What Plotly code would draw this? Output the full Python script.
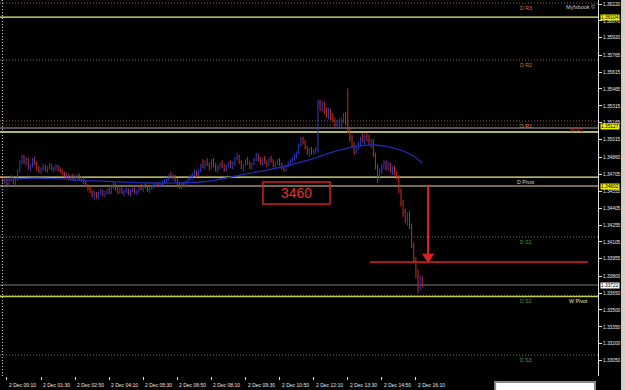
import plotly.graph_objects as go

# ---------------- data (EURUSD M5, 2 Dec) ----------------
open_ = [
 1.3466,1.3464,1.3466,1.3462,1.3465,1.3468,1.3463,1.3466,1.3474,1.3482,
 1.3486,1.3481,1.3484,1.3477,1.3479,1.3484,1.3480,1.3475,1.3473,1.3476,
 1.3478,1.3474,1.3477,1.3479,1.3475,1.3476,1.3478,1.3474,1.3473,1.3471,
 1.3469,1.3470,1.3467,1.3469,1.3467,1.3468,1.3470,1.3466,1.3467,1.3463,
 1.3460,1.3458,1.3455,1.3452,1.3454,1.3450,1.3454,1.3456,1.3452,1.3455,
 1.3457,1.3454,1.3459,1.3462,1.3457,1.3455,1.3458,1.3454,1.3456,1.3457,
 1.3453,1.3456,1.3458,1.3454,1.3455,1.3459,1.3457,1.3460,1.3459,1.3456,
 1.3458,1.3460,1.3461,1.3462,1.3460,1.3462,1.3464,1.3465,1.3467,1.3470,
 1.3468,1.3469,1.3465,1.3462,1.3460,1.3462,1.3460,1.3464,1.3467,1.3469,
 1.3471,1.3473,1.3470,1.3474,1.3479,1.3477,1.3482,1.3479,1.3476,1.3483,
 1.3478,1.3475,1.3477,1.3480,1.3477,1.3474,1.3478,1.3481,1.3477,1.3480,
 1.3485,1.3487,1.3481,1.3476,1.3479,1.3483,1.3480,1.3477,1.3480,1.3484,
 1.3488,1.3483,1.3481,1.3484,1.3481,1.3479,1.3484,1.3482,1.3478,1.3480,
 1.3483,1.3479,1.3476,1.3474,1.3478,1.3481,1.3483,1.3485,1.3487,1.3490,
 1.3497,1.3502,1.3499,1.3494,1.3490,1.3492,1.3489,1.3492,1.3493,1.3534,
 1.3528,1.3533,1.3525,1.3523,1.3527,1.3520,1.3518,1.3515,1.3516,1.3517,
 1.3520,1.3523,1.3516,1.3510,1.3502,1.3496,1.3490,1.3495,1.3498,1.3502,
 1.3500,1.3504,1.3501,1.3497,1.3500,1.3488,1.3477,1.3469,1.3474,1.3478,
 1.3481,1.3476,1.3480,1.3474,1.3476,1.3472,1.3468,1.3456,1.3445,1.3437,
 1.3431,1.3435,1.3425,1.3408,1.3394,1.3380,1.3370,1.3378]
high = [
 1.3469,1.3467,1.3468,1.3466,1.3470,1.3469,1.3467,1.3475,1.3483,1.3488,
 1.3488,1.3486,1.3485,1.3480,1.3485,1.3486,1.3482,1.3478,1.3477,1.3480,
 1.3479,1.3478,1.3481,1.3480,1.3478,1.3480,1.3479,1.3477,1.3475,1.3473,
 1.3472,1.3471,1.3470,1.3471,1.3470,1.3471,1.3471,1.3469,1.3468,1.3465,
 1.3462,1.3460,1.3457,1.3456,1.3455,1.3455,1.3458,1.3457,1.3456,1.3458,
 1.3459,1.3460,1.3464,1.3463,1.3460,1.3459,1.3459,1.3457,1.3459,1.3458,
 1.3457,1.3459,1.3459,1.3457,1.3460,1.3462,1.3461,1.3463,1.3461,1.3459,
 1.3461,1.3462,1.3463,1.3464,1.3463,1.3465,1.3466,1.3468,1.3471,1.3473,
 1.3471,1.3470,1.3467,1.3464,1.3463,1.3464,1.3465,1.3468,1.3470,1.3472,
 1.3475,1.3474,1.3475,1.3480,1.3484,1.3483,1.3485,1.3481,1.3484,1.3485,
 1.3481,1.3479,1.3481,1.3483,1.3480,1.3479,1.3482,1.3483,1.3482,1.3486,
 1.3490,1.3488,1.3483,1.3480,1.3484,1.3486,1.3482,1.3481,1.3485,1.3490,
 1.3489,1.3486,1.3485,1.3487,1.3483,1.3485,1.3487,1.3484,1.3482,1.3484,
 1.3485,1.3481,1.3478,1.3479,1.3482,1.3484,1.3486,1.3489,1.3491,1.3498,
 1.3504,1.3504,1.3501,1.3496,1.3494,1.3495,1.3493,1.3495,1.3537,1.3537,
 1.3536,1.3535,1.3530,1.3530,1.3529,1.3525,1.3521,1.3519,1.3520,1.3521,
 1.3525,1.3526,1.3547,1.3513,1.3506,1.3499,1.3497,1.3500,1.3504,1.3507,
 1.3506,1.3507,1.3506,1.3502,1.3502,1.3490,1.3480,1.3476,1.3480,1.3483,
 1.3483,1.3482,1.3481,1.3478,1.3478,1.3474,1.3470,1.3458,1.3448,1.3440,
 1.3437,1.3438,1.3427,1.3410,1.3397,1.3386,1.3381,1.3380]
low = [
 1.3463,1.3462,1.3461,1.3460,1.3464,1.3462,1.3461,1.3465,1.3472,1.3479,
 1.3480,1.3478,1.3475,1.3473,1.3477,1.3479,1.3474,1.3472,1.3471,1.3474,
 1.3473,1.3472,1.3475,1.3474,1.3472,1.3474,1.3473,1.3472,1.3470,1.3468,
 1.3467,1.3466,1.3465,1.3466,1.3464,1.3466,1.3465,1.3464,1.3462,1.3459,
 1.3456,1.3454,1.3450,1.3448,1.3449,1.3449,1.3452,1.3451,1.3450,1.3453,
 1.3453,1.3453,1.3458,1.3456,1.3453,1.3453,1.3453,1.3451,1.3454,1.3452,
 1.3451,1.3455,1.3453,1.3452,1.3454,1.3456,1.3455,1.3458,1.3455,1.3454,
 1.3457,1.3458,1.3459,1.3459,1.3459,1.3461,1.3462,1.3463,1.3465,1.3467,
 1.3465,1.3464,1.3461,1.3458,1.3457,1.3459,1.3459,1.3463,1.3465,1.3466,
 1.3469,1.3468,1.3469,1.3472,1.3476,1.3475,1.3478,1.3474,1.3475,1.3477,
 1.3473,1.3472,1.3475,1.3476,1.3473,1.3473,1.3477,1.3476,1.3475,1.3478,
 1.3483,1.3480,1.3475,1.3473,1.3478,1.3479,1.3475,1.3475,1.3479,1.3482,
 1.3482,1.3479,1.3478,1.3480,1.3477,1.3478,1.3481,1.3477,1.3475,1.3479,
 1.3478,1.3475,1.3473,1.3473,1.3477,1.3479,1.3481,1.3483,1.3485,1.3488,
 1.3495,1.3497,1.3493,1.3488,1.3486,1.3488,1.3488,1.3489,1.3490,1.3527,
 1.3526,1.3524,1.3521,1.3520,1.3519,1.3517,1.3512,1.3513,1.3513,1.3512,
 1.3516,1.3514,1.3507,1.3500,1.3494,1.3488,1.3489,1.3492,1.3496,1.3499,
 1.3497,1.3500,1.3496,1.3494,1.3486,1.3475,1.3463,1.3466,1.3471,1.3475,
 1.3474,1.3474,1.3472,1.3470,1.3470,1.3466,1.3454,1.3442,1.3433,1.3427,
 1.3425,1.3422,1.3405,1.3392,1.3378,1.3365,1.3367,1.3370]
close = [
 1.3464,1.3466,1.3462,1.3465,1.3468,1.3463,1.3466,1.3474,1.3482,1.3486,
 1.3481,1.3484,1.3477,1.3479,1.3484,1.3480,1.3475,1.3473,1.3476,1.3478,
 1.3474,1.3477,1.3479,1.3475,1.3476,1.3478,1.3474,1.3473,1.3471,1.3469,
 1.3470,1.3467,1.3469,1.3467,1.3468,1.3470,1.3466,1.3467,1.3463,1.3460,
 1.3458,1.3455,1.3452,1.3454,1.3450,1.3454,1.3456,1.3452,1.3455,1.3457,
 1.3454,1.3459,1.3462,1.3457,1.3455,1.3458,1.3454,1.3456,1.3457,1.3453,
 1.3456,1.3458,1.3454,1.3455,1.3459,1.3457,1.3460,1.3459,1.3456,1.3458,
 1.3460,1.3461,1.3462,1.3460,1.3462,1.3464,1.3465,1.3467,1.3470,1.3468,
 1.3469,1.3465,1.3462,1.3460,1.3462,1.3460,1.3464,1.3467,1.3469,1.3471,
 1.3473,1.3470,1.3474,1.3479,1.3477,1.3482,1.3479,1.3476,1.3483,1.3478,
 1.3475,1.3477,1.3480,1.3477,1.3474,1.3478,1.3481,1.3477,1.3480,1.3485,
 1.3487,1.3481,1.3476,1.3479,1.3483,1.3480,1.3477,1.3480,1.3484,1.3488,
 1.3483,1.3481,1.3484,1.3481,1.3479,1.3484,1.3482,1.3478,1.3480,1.3483,
 1.3479,1.3476,1.3474,1.3478,1.3481,1.3483,1.3485,1.3487,1.3490,1.3497,
 1.3502,1.3499,1.3494,1.3490,1.3492,1.3489,1.3492,1.3494,1.3534,1.3528,
 1.3533,1.3525,1.3523,1.3527,1.3520,1.3518,1.3515,1.3516,1.3517,1.3520,
 1.3523,1.3516,1.3510,1.3502,1.3496,1.3490,1.3495,1.3498,1.3502,1.3500,
 1.3504,1.3501,1.3497,1.3500,1.3488,1.3477,1.3469,1.3474,1.3478,1.3481,
 1.3476,1.3480,1.3474,1.3476,1.3472,1.3468,1.3456,1.3445,1.3437,1.3431,
 1.3435,1.3425,1.3408,1.3394,1.3380,1.3370,1.3378,1.33725]

# moving average read at a few bars
ma_bars = [0, 12, 24, 32, 46, 58, 70, 82, 93, 100, 107, 116, 124, 135, 142,
           148, 155, 162, 168, 174, 180, 187, 192, 197]
ma_vals = [1.34655, 1.34670, 1.34668, 1.34658, 1.34646, 1.34636, 1.34629,
           1.34630, 1.34638, 1.34655, 1.34682, 1.34715, 1.34744, 1.34789,
           1.34825, 1.34860, 1.34905, 1.34940, 1.34960, 1.34967, 1.34955,
           1.34922, 1.34878, 1.34806]

# time axis labels (bar index of each label)
time_bars = [2, 18, 34, 50, 66, 82, 98, 114, 130, 146, 162, 178, 194]
time_labels = ["2 Dec 00:10", "2 Dec 01:30", "2 Dec 02:50", "2 Dec 04:10",
               "2 Dec 05:30", "2 Dec 06:50", "2 Dec 08:10", "2 Dec 09:30",
               "2 Dec 10:50", "2 Dec 12:10", "2 Dec 13:30", "2 Dec 14:50",
               "2 Dec 16:10"]

# price axis ticks
price_ticks = [1.36220, 1.36070, 1.35920, 1.35765, 1.35615, 1.35465, 1.35315,
               1.35165, 1.35015, 1.34860, 1.34705, 1.34555, 1.34405, 1.34255,
               1.34105, 1.33955, 1.33800, 1.33650, 1.33500, 1.33350, 1.33200,
               1.33050, 1.32895]
price_tick_text = ["1.36220", "1.36070", "1.35920", "1.35765", "1.35615",
                   "1.35465", "1.35315", "1.35165", "1.35015", "1.34860",
                   "1.34705", "1.34555", "1.34405", "1.34255", "1.34105",
                   "1.33955", "1.33800", "1.33650", "1.33500", "1.33350",
                   "1.33200", "1.33050", "1.32895"]

# pivot levels
pivot_names = ["D R3", "D R2", "D R1", "W R1", "D Pivot", "D S1", "D S2", "W Pivot", "D S3"]
pivot_prices = [1.36229, 1.35722, 1.35180, 1.35144, 1.34682, 1.34149, 1.33624, 1.33620, 1.33100]

# other horizontal lines
hline_prices = [1.36104, 1.35118, 1.35082, 1.34602, 1.33722]
marked_prices = [1.36104, 1.35127, 1.34602]   # yellow price tags
bid_price = 1.33722
target_price = 1.33926
box_text = "3460"
arrow_top = 1.34602

# ---------------- figure ----------------
BULL = "#2a3acb"
BEAR = "#c4301e"
YEL = "#eeee8a"
Y_RANGE = [1.32913, 1.36256]
X_RANGE = [-1.27, 279.5]
FONT = "Liberation Sans"

n = len(close)
bars = list(range(n))

fig = go.Figure()
fig.add_trace(go.Ohlc(
    x=bars, open=open_, high=high, low=low, close=close,
    increasing=dict(line=dict(color=BULL, width=1)),
    decreasing=dict(line=dict(color=BEAR, width=1)),
    tickwidth=0.2, showlegend=False, hoverinfo="skip"))
fig.add_trace(go.Scatter(
    x=ma_bars, y=ma_vals, mode="lines",
    line=dict(color="#1c2cb0", width=1.3, shape="spline"),
    showlegend=False, hoverinfo="skip"))

shapes = []
def hline(y, color, width=1, dash="solid", x0=0, x1=1, xref="paper"):
    shapes.append(dict(type="line", xref=xref, yref="y", x0=x0, x1=x1, y0=y, y1=y,
                       line=dict(color=color, width=width, dash=dash), layer="below"))

DOT = "1px,2px"
pivot_style = {
    "D R3": ("#9a6038", DOT), "D R2": ("#9a6038", DOT), "D R1": ("#9a6038", DOT),
    "W R1": ("#a82424", DOT), "D Pivot": (YEL, "solid"), "D S1": ("#5e7e5e", DOT),
    "D S2": ("#e8e860", DOT), "W Pivot": ("#c8c850", "solid"), "D S3": ("#5e7e5e", DOT),
}
for nm, p in zip(pivot_names, pivot_prices):
    c, d = pivot_style[nm]
    hline(p, c, 1.3 if d == "solid" else 1, d)

hline_styles = [(YEL, 1.4), ("#a8a8a0", 1.2), (YEL, 1.4), ("#9c8c6c", 1.6), ("#7c7c7c", 1)]
for p, (c, w) in zip(hline_prices, hline_styles):
    hline(p, c, w)

# red target line
hline(target_price, "#e02020", 1.5, "solid", x0=172.4, x1=274.8, xref="x")

# arrow
shapes.append(dict(type="line", xref="x", yref="y", x0=199.7, x1=199.7,
                   y0=arrow_top, y1=target_price + 0.0006,
                   line=dict(color="#e02020", width=2)))
shapes.append(dict(type="path", xref="x", yref="y",
                   path=f"M 197.2 {target_price + 0.0007} L 202.3 {target_price + 0.0007} L 199.75 {target_price} Z",
                   fillcolor="#e02020", line=dict(color="#e02020", width=1)))

# text box
shapes.append(dict(type="rect", xref="x", yref="y", x0=122.2, x1=153.7,
                   y0=1.34442, y1=1.34638, line=dict(color="#d42020", width=1.5)))

# left dotted separator
shapes.append(dict(type="line", xref="paper", yref="paper", x0=0.004, x1=0.004, y0=0, y1=1,
                   line=dict(color="#d0d0d0", width=1, dash=DOT)))
# bottom-right window frame and right border strip
shapes.append(dict(type="rect", xref="paper", yref="paper", x0=0.828, x1=0.995,
                   y0=-0.045, y1=-0.016, fillcolor="#ffffff",
                   line=dict(color="#8a8a8a", width=2)))
shapes.append(dict(type="rect", xref="paper", yref="paper", x0=1.0385, x1=1.06,
                   y0=-0.05, y1=1.0, fillcolor="#d4d0c8", line=dict(width=0)))

ann = []
label_style = {
    "D R3": ("#c8784a", 0.866), "D R2": ("#c8784a", 0.866), "D R1": ("#c8784a", 0.866),
    "W R1": ("#c83030", 0.950), "D Pivot": ("#d8d8c0", 0.862), "D S1": ("#4c9c4c", 0.866),
    "D S2": ("#4c9c4c", 0.866), "W Pivot": ("#e8e8a8", 0.948), "D S3": ("#4c9c4c", 0.866),
}
for nm, p in zip(pivot_names, pivot_prices):
    c, xp = label_style[nm]
    ann.append(dict(text=nm, xref="paper", yref="y", x=xp, y=p, xanchor="left",
                    yanchor="top", yshift=0, showarrow=False,
                    font=dict(family=FONT, size=5.3, color=c)))

for t, b in zip(time_labels, time_bars):
    ann.append(dict(text=t, xref="x", yref="paper", x=b, y=0, xanchor="left",
                    yanchor="top", xshift=0, yshift=-4, showarrow=False,
                    font=dict(family=FONT, size=5, color="#e8e8e8")))

for p in marked_prices:
    ann.append(dict(text=f"{p:.5f}", xref="paper", yref="y", x=1, y=p, xanchor="left",
                    yanchor="middle", xshift=2, showarrow=False, bgcolor="#f0f000",
                    borderpad=0, font=dict(family=FONT, size=4.8, color="#000000")))
ann.append(dict(text=f"{bid_price:.5f}", xref="paper", yref="y", x=1, y=bid_price,
                xanchor="left", yanchor="middle", xshift=2, showarrow=False,
                bgcolor="#ffffff", borderpad=0,
                font=dict(family=FONT, size=4.8, color="#000000")))

ann.append(dict(text=box_text, xref="x", yref="y", x=137.95, y=1.3454, showarrow=False,
                font=dict(family=FONT, size=14, color="#e03030")))
ann.append(dict(text="Myfxbook ©", xref="paper", yref="paper", x=0.998, y=0.995,
                xanchor="right", yanchor="top", showarrow=False,
                font=dict(family=FONT, size=5.5, color="#c8c8c8")))

fig.update_layout(
    width=625, height=390, margin=dict(l=0, r=27, t=0, b=14),
    paper_bgcolor="#000000", plot_bgcolor="#000000",
    shapes=shapes, annotations=ann, showlegend=False,
    xaxis=dict(range=X_RANGE, showgrid=False, zeroline=False, rangeslider=dict(visible=False),
               tickvals=time_bars, showticklabels=False, ticks="outside", ticklen=3,
               tickcolor="#e0e0e0", showline=False, fixedrange=True),
    yaxis=dict(range=Y_RANGE, side="right", showgrid=False, zeroline=False,
               tickvals=price_ticks, ticktext=price_tick_text, ticks="outside",
               ticklen=3, tickcolor="#e0e0e0", showline=True, linecolor="#e0e0e0",
               linewidth=1, tickfont=dict(family=FONT, size=4.8, color="#e8e8e8"),
               fixedrange=True),
)

fig.write_html("out.html")
